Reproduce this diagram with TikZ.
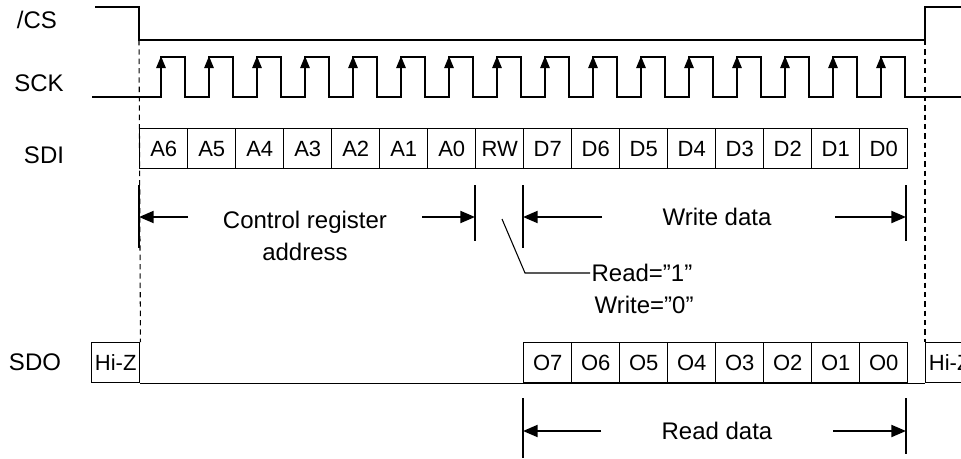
\documentclass[tikz,border=0pt]{standalone}
\usepackage{fontspec}
\setmainfont{Liberation Sans}
\usetikzlibrary{arrows.meta,positioning}
\tikzset{%
	sigline/.style={draw, line width=1.3pt, line join=miter},
	bitbox/.style={rectangle, draw, line width=1.1pt, minimum width=36pt, minimum height=30pt, inner sep=0pt, anchor=north west, font=\fontsize{16.5}{19}\selectfont},
	signame/.style={font=\fontsize{18}{21}\selectfont},
	txtlabel/.style={font=\fontsize{18}{24}\selectfont, align=center},
	guide/.style={draw, line width=0.8pt, dash pattern=on 4pt off 3pt},
	dimtick/.style={draw, line width=1.1pt},
	leader/.style={draw, line width=0.8pt},
	dimarrow/.style={draw, line width=1.5pt, -{Triangle[length=11pt,width=9pt]}},
	edgearrow/.style={draw, line width=1.3pt, -{Triangle[length=9pt,width=7pt]}}}

\begin{document}
\begin{tikzpicture}[x=0.75pt, y=-0.75pt]
	\useasboundingbox (0,0) rectangle (961,458);
	\clip (0,0) rectangle (961,458);

	\node[signame] (cs) at (37,20) {/CS};
	\node[signame] (sck) at (39,83) {SCK};
	\node[signame] (sdi) at (44,155) {SDI};
	\node[signame] (sdo) at (35,362) {SDO};

	\draw[sigline] (95,7) -- (139,7) -- (139,40) -- (925,40) -- (925,7) -- (961,7);

	\draw[sigline] (92,97)
		\foreach \k in {0,...,15} { -- ({161+48*\k},97) -- ({161+48*\k},57) -- ({185+48*\k},57) -- ({185+48*\k},97) } -- (961,97);
	\foreach \k in {0,...,15}
		\draw[edgearrow] ({161+48*\k},85) -- ({161+48*\k},56);

	\foreach \lab [count=\i from 0] in {A6,A5,A4,A3,A2,A1,A0,RW,D7,D6,D5,D4,D3,D2,D1,D0}
		\node[bitbox] (sdi-\i) at ({139+48*\i},128) {\lab};

	\node[bitbox] (hiz-l) at (91,342) {Hi-Z};
	\foreach \lab [count=\i from 0] in {O7,O6,O5,O4,O3,O2,O1,O0}
		\node[bitbox] (sdo-\i) at ({523+48*\i},342) {\lab};
	\node[bitbox] (hiz-r) at (925,342) {Hi-Z};
	\draw[sigline] (hiz-l.south east) -- (hiz-r.south west);

	\draw[guide] (139,40) -- (hiz-l.north east);
	\draw[guide] (925,40) -- (hiz-r.north west);

	\draw[dimtick] (139,185) -- (139,248);
	\draw[dimtick] (475,185) -- (475,241);
	\draw[dimtick] (523,185) -- (523,248);
	\draw[dimtick] (906,185) -- (906,241);
	\draw[dimtick] (523,398) -- (523,458);
	\draw[dimtick] (906,398) -- (906,454);

	\node[txtlabel] (addr) at (305,236) {Control register\\address};
	\draw[dimarrow] (188,217) -- (139,217);
	\draw[dimarrow] (422,217) -- (475,217);

	\node[txtlabel] (wdata) at (717,217) {Write data};
	\draw[dimarrow] (602,217) -- (523,217);
	\draw[dimarrow] (835,217) -- (906,217);

	\node[txtlabel] (rdata) at (717,431) {Read data};
	\draw[dimarrow] (601,431) -- (523,431);
	\draw[dimarrow] (833,431) -- (906,431);

	\node[txtlabel, anchor=west, inner sep=1pt] (rdbit) at (590,273) {Read=”1”};
	\node[txtlabel, anchor=west, inner sep=1pt] (wrbit) at (593,305) {Write=”0”};
	\draw[leader] (502,219) -- (525,273) -- (rdbit.west);
\end{tikzpicture}
\end{document}
